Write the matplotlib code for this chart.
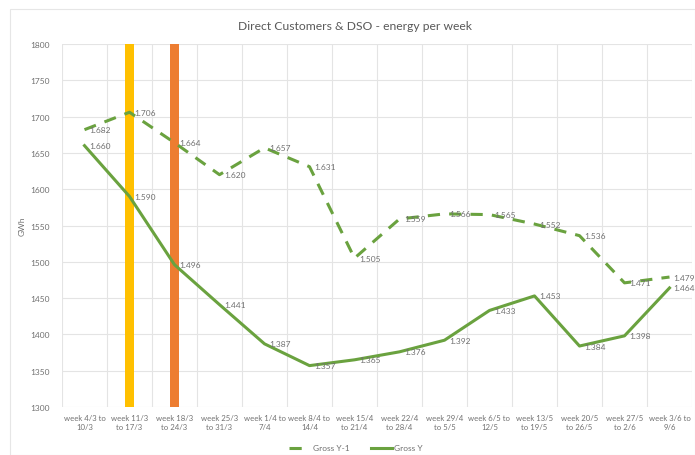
import matplotlib.pyplot as plt
from matplotlib.patches import Rectangle

plt.rcParams['font.family'] = ['Lato', 'DejaVu Sans']

weeks = ["week 4/3 to\n10/3", "week 11/3\nto 17/3", "week 18/3\nto 24/3", "week 25/3\nto 31/3",
         "week 1/4 to\n7/4", "week 8/4 to\n14/4", "week 15/4\nto 21/4", "week 22/4\nto 28/4",
         "week 29/4\nto 5/5", "week 6/5 to\n12/5", "week 13/5\nto 19/5", "week 20/5\nto 26/5",
         "week 27/5\nto 2/6", "week 3/6 to\n9/6"]
gross_prev = [1682, 1706, 1664, 1620, 1657, 1631, 1505, 1559, 1566, 1565, 1552, 1536, 1471, 1479]
gross_cur = [1660, 1590, 1496, 1441, 1387, 1357, 1365, 1376, 1392, 1433, 1453, 1384, 1398, 1464]
marker_weeks = [1, 2]
marker_colors = ["#FFC000", "#ED7D31"]
y_ticks = list(range(1300, 1801, 50))

fig = plt.figure(figsize=(6.95, 4.56), dpi=100)
fig.patches.append(Rectangle((10/695, 0), 1 - 10/695, 1 - 10/456, transform=fig.transFigure,
                             fill=False, edgecolor="#E6E6E6", linewidth=0.8))
ax = fig.add_axes([62/695, 1 - 408/456, 630/695, (408 - 45)/456])

x = list(range(len(weeks)))
green = "#6AA23F"
grey_text = "#707070"

# highlighted weeks drawn as thin full-height columns
for w, c in zip(marker_weeks, marker_colors):
    ax.bar(w, y_ticks[-1] - y_ticks[0], bottom=y_ticks[0], width=0.18, color=c, zorder=2)

ax.plot(x, gross_prev, color=green, lw=2.2, ls=(0, (4, 3)), label="Gross Y-1", zorder=3)
ax.plot(x, gross_cur, color=green, lw=2.2, label="Gross Y", zorder=3)

def fmt(v):
    return f"{v // 1000}.{v % 1000:03d}"

for series in (gross_prev, gross_cur):
    for i, v in enumerate(series):
        ax.annotate(fmt(v), (i, v), xytext=(3.5 if i < len(series) - 1 else 2.5, 0),
                    textcoords="offset points", fontsize=6, color=grey_text,
                    va="center", ha="left", zorder=4, annotation_clip=False)

ax.set_xlim(-0.5, len(weeks) - 0.5)
ax.set_ylim(y_ticks[0], y_ticks[-1])
ax.set_yticks(y_ticks)
ax.set_xticks(x)
ax.set_xticklabels(weeks, fontsize=5.6, color=grey_text, linespacing=1.3)
ax.tick_params(axis="y", labelsize=6, labelcolor=grey_text, length=0, pad=9)
ax.tick_params(axis="x", length=0, pad=5)
ax.set_xticks([i + 0.5 for i in range(-1, len(weeks))], minor=True)
ax.grid(axis="y", color="#E4E4E4", lw=0.8, zorder=0)
ax.grid(axis="x", which="minor", color="#E4E4E4", lw=0.8, zorder=0)
ax.grid(axis="x", which="major", visible=False)
ax.tick_params(axis="x", which="minor", length=0)
for s in ax.spines.values():
    s.set_visible(False)
ax.set_axisbelow(True)

ax.set_ylabel("GWh", fontsize=6, color=grey_text, labelpad=3)
fig.text(355/695, 1 - 26/456, "Direct Customers & DSO - energy per week", ha="center", va="center",
         fontsize=8.7, color="#595959")
fig.legend(loc="center", bbox_to_anchor=(356/695, 1 - 449/456), ncol=2, frameon=False,
           fontsize=6, labelcolor=grey_text, handlelength=2.5, handletextpad=0.3,
           columnspacing=2.6)

fig.savefig("out.png", dpi=100)
